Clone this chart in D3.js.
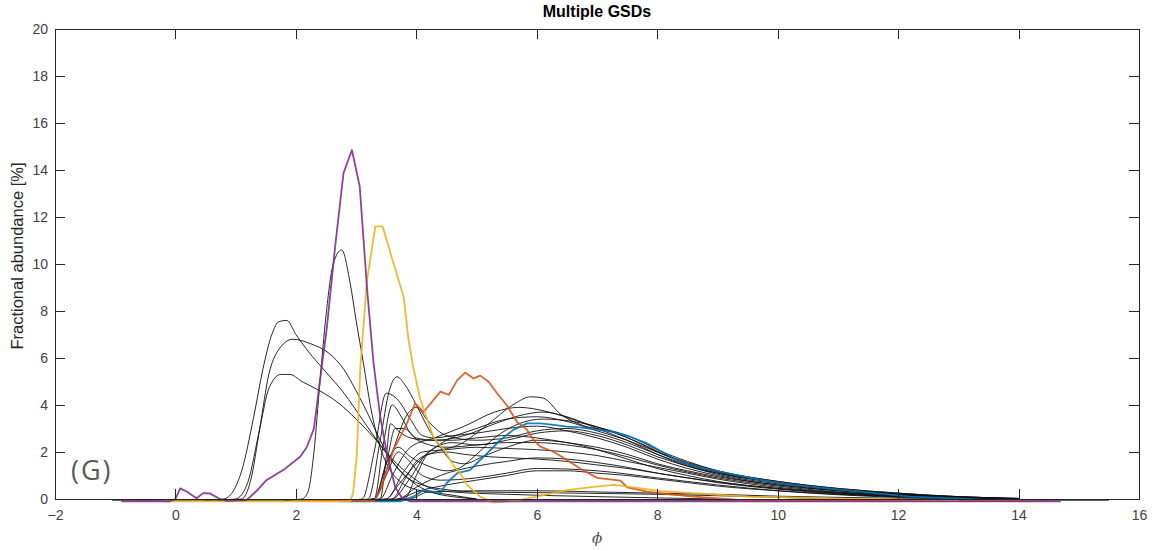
<!DOCTYPE html>
<html><head><meta charset="utf-8">
<script src="https://cdn.jsdelivr.net/npm/d3@7"></script>
<style>body{margin:0;background:#fff}</style>
</head><body>
<svg id="c" width="1162" height="551"></svg>
<script>
// ---- data (phi, fractional abundance %) ----
const xTicks = [-2,0,2,4,6,8,10,12,14,16];
const yTicks = [0,2,4,6,8,10,12,14,16,18,20];

const baseline = [[-1.05,-0.06],[15.5,-0.06]];

const blackCurves = [
 [[0.8,0],[0.95,0.3],[1.1,1.2],[1.3,3.5],[1.45,5.5],[1.6,7.0],[1.72,7.55],[1.85,7.6],[2.0,7.0],[2.2,6.3],[2.5,5.4],[2.8,4.5],[3.1,3.4],[3.4,2.3],[3.7,1.3],[4.0,0.6],[4.3,0.25],[4.6,0.1],[5,0]],
 [[1.1,0],[1.25,0.8],[1.4,3.0],[1.55,5.3],[1.7,6.3],[1.95,6.8],[2.25,6.6],[2.55,6.2],[2.8,5.5],[3.0,4.6],[3.2,3.6],[3.4,2.5],[3.6,1.6],[3.8,1.0],[4.1,0.6],[4.5,0.4],[5,0.3],[6,0.27],[8,0.2],[10,0.07],[11,0]],
 [[1.0,0],[1.2,0.7],[1.4,3.0],[1.55,4.7],[1.75,5.3],[1.9,5.3],[2.1,5.0],[2.4,4.6],[2.7,4.1],[3.0,3.4],[3.3,2.6],[3.6,1.7],[3.9,1.0],[4.2,0.5],[4.6,0.3],[5.5,0.2],[7,0.1],[9,0]],
 [[2.1,0],[2.2,0.3],[2.3,2.0],[2.4,5.0],[2.5,7.8],[2.62,10.0],[2.76,10.6],[2.9,9.2],[3.0,7.6],[3.12,5.8],[3.25,3.8],[3.4,2.2],[3.55,1.3],[3.75,0.7],[4.0,0.4],[4.5,0.2],[5,0]],
 [[3.2,0],[3.4,2.5],[3.55,4.6],[3.68,5.2],[3.8,4.9],[4.0,4.0],[4.2,3.0],[4.4,2.2],[4.6,1.6],[4.8,1.5],[5.1,1.8],[5.5,2.2],[6.0,2.5],[6.5,2.4],[7,2.1],[7.5,1.7],[8,1.3],[8.5,1.0],[9,0.75],[10,0.45],[11,0.25],[12,0.12],[13,0.05],[14,0]],
 [[3.1,0],[3.3,2.0],[3.5,4.5],[3.7,4.2],[3.9,3.4],[4.1,2.7],[4.3,2.6],[4.6,2.7],[5,2.8],[5.5,3.0],[6,3.1],[6.5,2.9],[7,2.6],[7.5,2.2],[8,1.7],[8.5,1.3],[9,1.0],[10,0.6],[11,0.35],[12,0.18],[13,0.07],[14,0]],
 [[3.3,0],[3.5,1.5],[3.65,3.0],[3.8,3.0],[4.0,2.6],[4.3,2.5],[4.8,2.7],[5.3,3.2],[5.8,3.6],[6.1,3.7],[6.5,3.5],[7,3.0],[7.5,2.5],[8,1.9],[8.5,1.4],[9,1.1],[10,0.7],[11,0.4],[12,0.2],[13,0.08],[14,0]],
 [[3.6,0],[3.8,0.8],[4.0,1.6],[4.3,2.0],[4.7,2.3],[5.2,3.2],[5.6,4.0],[5.9,4.35],[6.1,4.3],[6.4,3.6],[6.8,3.1],[7.2,2.9],[7.6,2.5],[8,2.0],[8.5,1.5],[9,1.15],[10,0.7],[11,0.4],[12,0.2],[13,0.08],[14,0]],
 [[3.4,0],[3.6,1.0],[3.9,2.2],[4.3,2.6],[4.8,3.1],[5.3,3.7],[5.7,3.9],[6.2,3.7],[6.7,3.3],[7.2,2.9],[7.7,2.4],[8.2,1.8],[8.7,1.35],[9.2,1.05],[10,0.7],[11,0.42],[12,0.22],[13,0.1],[14,0.02]],
 [[3.5,0],[3.7,0.6],[4.0,1.5],[4.5,2.5],[5,3.0],[5.5,3.4],[6,3.5],[6.5,3.3],[7,2.9],[7.5,2.5],[8,2.0],[8.5,1.55],[9,1.2],[10,0.75],[11,0.45],[12,0.25],[13,0.1],[14,0.03]],
 [[3.6,0],[3.9,0.9],[4.2,2.0],[4.6,2.4],[5.0,2.3],[5.5,2.5],[6,2.8],[6.5,2.9],[7,2.7],[7.5,2.3],[8,1.8],[8.5,1.4],[9,1.05],[10,0.65],[11,0.38],[12,0.2],[13,0.08],[14,0]],
 [[3.3,0],[3.45,2.3],[3.6,4.0],[3.75,3.5],[3.9,2.8],[4.1,2.4],[4.5,2.2],[5,2.3],[5.5,2.4],[6,2.4],[6.5,2.3],[7,2.1],[7.5,1.8],[8,1.45],[8.5,1.15],[9,0.9],[10,0.55],[11,0.3],[12,0.15],[13,0.05],[14,0]],
 [[3.4,0],[3.5,1.8],[3.57,3.2],[3.7,2.9],[3.9,2.6],[4.2,2.5],[4.6,2.5],[5,2.6],[5.5,2.7],[6,2.6],[6.5,2.4],[7,2.2],[7.5,1.9],[8,1.5],[8.5,1.2],[9,0.95],[10,0.6],[11,0.35],[12,0.17],[13,0.06],[14,0]],
 [[3.5,0],[3.8,1.2],[4.1,2.0],[4.5,2.1],[5,2.2],[5.5,2.15],[6,2.1],[6.5,2.0],[7,1.85],[7.5,1.6],[8,1.35],[8.5,1.1],[9,0.85],[10,0.5],[11,0.28],[12,0.13],[13,0.05],[14,0]],
 [[3.7,0],[4.0,0.5],[4.4,1.0],[5,1.4],[5.5,1.6],[6,1.75],[6.5,1.7],[7,1.55],[7.5,1.35],[8,1.1],[8.5,0.9],[9,0.7],[10,0.42],[11,0.22],[12,0.1],[13,0.03],[14,0]],
 [[3.7,0],[4.0,0.3],[4.5,0.6],[5,0.8],[5.5,1.0],[6,1.2],[6.5,1.2],[7,1.1],[7.5,1.0],[8,0.85],[8.5,0.7],[9,0.55],[10,0.35],[11,0.2],[12,0.1],[13,0.03],[14,0]],
 [[3.3,0],[3.5,1.5],[3.7,2.2],[3.9,1.8],[4.2,1.4],[4.5,1.2],[4.7,1.3],[5,1.9],[5.3,2.6],[5.7,3.2],[6.1,3.4],[6.6,3.3],[7.1,3.0],[7.6,2.6],[8,2.1],[8.5,1.6],[9,1.2],[10,0.75],[11,0.45],[12,0.25],[13,0.1],[14,0.02]],
 [[3.8,0],[4.0,1.0],[4.2,1.9],[4.5,2.0],[4.8,1.9],[5.2,1.8],[5.6,1.75],[6,1.7],[6.5,1.6],[7,1.45],[7.5,1.3],[8,1.1],[8.5,0.9],[9,0.72],[10,0.45],[11,0.25],[12,0.12],[13,0.04],[14,0]],
 [[3.3,0],[3.6,2.0],[3.85,3.6],[4.0,3.9],[4.2,3.3],[4.5,2.7],[5,2.5],[5.5,2.6],[6,2.9],[6.5,3.0],[7,2.8],[7.5,2.4],[8,1.9],[8.5,1.45],[9,1.1],[10,0.7],[11,0.4],[12,0.2],[13,0.07],[14,0]],
 [[3.9,0],[4.2,0.3],[5,0.35],[6,0.35],[7,0.3],[8,0.25],[9,0.2],[10,0.12],[11,0.07],[12,0.03],[13,0]],
 [[3.3,0],[3.5,1.0],[3.7,2.0],[3.85,1.7],[4.1,1.0],[4.4,0.8],[5,0.9],[5.5,1.1],[6,1.3],[7,1.2],[8,0.9],[9,0.6],[10,0.35],[11,0.18],[12,0.07],[13,0]]
];

const blueSeries = [[2.7,-0.1],[3.73,-0.1],[3.95,0.1],[4.12,0.38],[4.28,0.31],[4.4,0.24],[4.5,0.67],[4.68,1.1],[4.89,1.23],[5.06,1.66],[5.23,2.08],[5.39,2.5],[5.61,2.94],[5.84,3.22],[6.06,3.22],[6.28,3.15],[6.5,3.08],[6.72,3.05],[7.0,2.95],[7.27,2.86],[7.55,2.65],[7.83,2.37],[8.05,2.05],[8.33,1.66],[8.6,1.4],[9.16,1.1],[9.71,0.81],[10.27,0.6],[10.82,0.45],[11.37,0.31],[12.2,0.1],[13.15,0],[13.5,-0.05]];

const orangeSeries = [[1.95,-0.06],[3.3,-0.08],[3.4,0.38],[3.62,2.08],[3.84,3.2],[3.98,4.07],[4.12,3.7],[4.4,4.57],[4.54,4.43],[4.68,5.06],[4.81,5.38],[4.95,5.13],[5.06,5.25],[5.2,4.99],[5.34,4.5],[5.5,4.0],[5.67,3.29],[5.84,2.94],[5.95,2.5],[6.06,2.23],[6.28,2.01],[6.5,1.66],[6.72,1.3],[7.0,0.9],[7.39,0.78],[7.5,0.5],[7.83,0.31],[8.05,0.24],[8.6,0.1],[9.16,0],[9.5,-0.08],[14.25,-0.08]];

const yellowSeries = [[-0.2,-0.1],[2.9,-0.1],[2.95,0.25],[3.01,1.8],[3.07,5.6],[3.18,9.3],[3.32,11.6],[3.44,11.6],[3.59,10.3],[3.79,8.6],[3.87,6.77],[3.95,5.6],[4.06,4.3],[4.28,2.65],[4.5,1.94],[4.62,1.4],[4.73,1.1],[4.84,0.6],[5.06,0.1],[5.28,-0.15],[5.72,-0.05],[6.0,0.1],[6.5,0.38],[6.94,0.52],[7.28,0.6],[7.55,0.52],[8.05,0.33],[8.6,0.25],[9.49,0.1],[10.04,0.08],[11,0.02],[13,-0.05]];

const purpleSeries = [[-0.9,-0.1],[-0.1,-0.1],[0.0,0.0],[0.08,0.45],[0.2,0.3],[0.35,0.03],[0.46,0.25],[0.57,0.24],[0.74,0],[0.85,-0.08],[1.18,-0.05],[1.35,0.35],[1.51,0.8],[1.79,1.23],[2.07,1.8],[2.18,2.2],[2.3,3.0],[2.4,5.06],[2.51,7.2],[2.65,10.7],[2.79,13.86],[2.93,14.85],[3.06,13.3],[3.18,9.0],[3.29,5.77],[3.4,3.5],[3.51,1.95],[3.65,0.5],[3.76,0.05],[3.9,-0.1],[14.7,-0.1]];

const colouredSeries = [
  {data: blueSeries, color: "#0072BD"},
  {data: orangeSeries, color: "#D95319"},
  {data: yellowSeries, color: "#EDB120"},
  {data: purpleSeries, color: "#7E2F8E"}
];

// ---- drawing ----
const svg = d3.select("#c");
const L = 55, R = 1139, T = 29, B = 499;
const x = d3.scaleLinear().domain([-2,16]).range([L,R]);
const y = d3.scaleLinear().domain([0,20]).range([B,T]);
const font = "'Liberation Sans', Arial, Helvetica, sans-serif";

const line = d3.line().x(d=>x(d[0])).y(d=>y(d[1])).curve(d3.curveMonotoneX);
const lineLin = d3.line().x(d=>x(d[0])).y(d=>y(d[1]));

svg.append("path").attr("d", lineLin(baseline)).attr("fill","none").attr("stroke","#555").attr("stroke-width",1);

svg.append("g").selectAll("path").data(blackCurves).join("path")
  .attr("d", d => line([[d[0][0]-0.3,-0.06]].concat(d)))
  .attr("fill","none").attr("stroke","#111").attr("stroke-width",1).attr("stroke-opacity",0.9);

svg.append("g").selectAll("path").data(colouredSeries).join("path")
  .attr("d", d => lineLin(d.data))
  .attr("fill","none").attr("stroke", d=>d.color).attr("stroke-width",1.8)
  .attr("stroke-linejoin","round").attr("stroke-opacity",0.9);

// axes (MATLAB-style inward ticks, box)
const axColor = "#262626";
const gB = svg.append("g").attr("transform",`translate(0,${B})`)
  .call(d3.axisBottom(x).tickValues(xTicks).tickSizeInner(-10).tickSizeOuter(0).tickPadding(11));
const gT = svg.append("g").attr("transform",`translate(0,${T})`)
  .call(d3.axisTop(x).tickValues(xTicks).tickSizeInner(-10).tickSizeOuter(0).tickFormat(""));
const gL = svg.append("g").attr("transform",`translate(${L},0)`)
  .call(d3.axisLeft(y).tickValues(yTicks).tickSizeInner(-10).tickSizeOuter(0).tickPadding(7));
const gR = svg.append("g").attr("transform",`translate(${R},0)`)
  .call(d3.axisRight(y).tickValues(yTicks).tickSizeInner(-10).tickSizeOuter(0).tickFormat(""));
[gB,gT,gL,gR].forEach(g=>{
  g.selectAll("path,line").attr("stroke",axColor).attr("stroke-width",1).attr("shape-rendering","crispEdges");
  g.selectAll("text").attr("fill","#404040").style("font-family",font).style("font-size","14px");
});

svg.append("text").attr("x",(L+R)/2).attr("y",17).attr("text-anchor","middle")
  .style("font-family",font).style("font-size","16px").style("font-weight","bold").attr("fill","#000")
  .text("Multiple GSDs");
svg.append("text").attr("transform",`translate(23,${(T+B)/2 - 8}) rotate(-90)`).attr("text-anchor","middle")
  .style("font-family",font).style("font-size","16.5px").attr("fill","#262626")
  .text("Fractional abundance [%]");
svg.append("text").attr("x",(L+R)/2).attr("y",543).attr("text-anchor","middle")
  .style("font-family","'DejaVu Serif', serif").style("font-size","15px").style("font-style","italic").attr("fill","#505050")
  .text("ϕ");
svg.append("text").attr("x",71).attr("y",480)
  .style("font-family","'Open Sans', 'Noto Sans', sans-serif").style("font-size","27px").style("letter-spacing","2px").attr("fill","#595959")
  .text("(G)");
</script>
</body></html>
